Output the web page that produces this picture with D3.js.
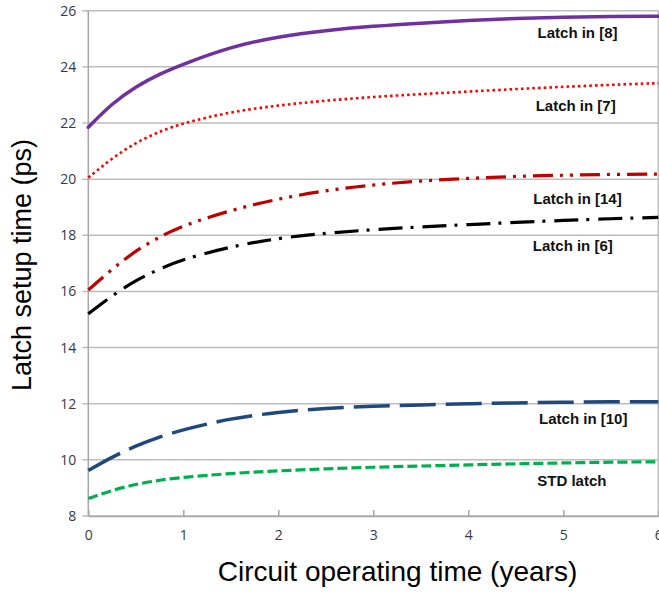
<!DOCTYPE html>
<html>
<head>
<meta charset="utf-8">
<script src="https://cdn.jsdelivr.net/npm/d3@7"></script>
<style>
  body { margin: 0; background: #fff; }
  svg { display: block; }
</style>
</head>
<body>
<svg id="chart" width="659" height="593"></svg>
<script>
// Datos
var years = [0, 0.25, 0.5, 0.75, 1, 1.5, 2, 2.5, 3, 3.5, 4, 4.5, 5, 5.5, 6];
var latch8  = [21.85, 22.7, 23.3, 23.75, 24.1, 24.72, 25.08, 25.3, 25.45, 25.56, 25.65, 25.73, 25.77, 25.8, 25.8];
var latch7  = [20.05, 20.75, 21.3, 21.7, 22.0, 22.4, 22.63, 22.8, 22.93, 23.03, 23.12, 23.21, 23.29, 23.36, 23.42];
var latch14 = [16.05, 16.8, 17.45, 17.95, 18.35, 18.9, 19.3, 19.6, 19.8, 19.94, 20.03, 20.1, 20.14, 20.17, 20.18];
var latch6  = [15.2, 15.85, 16.4, 16.8, 17.15, 17.6, 17.9, 18.08, 18.2, 18.3, 18.38, 18.46, 18.53, 18.59, 18.64];
var latch10 = [9.62, 10.1, 10.5, 10.82, 11.08, 11.48, 11.7, 11.84, 11.91, 11.96, 12.0, 12.03, 12.05, 12.07, 12.07];
var stdLatch = [8.62, 8.92, 9.13, 9.28, 9.38, 9.52, 9.61, 9.68, 9.74, 9.78, 9.82, 9.86, 9.89, 9.92, 9.93];

var seriesNames = ["Latch in [8]", "Latch in [7]", "Latch in [14]", "Latch in [6]", "Latch in [10]", "STD latch"];
var seriesValues = [latch8, latch7, latch14, latch6, latch10, stdLatch];

var xTicks = [0, 1, 2, 3, 4, 5, 6];
var yTicks = [8, 10, 12, 14, 16, 18, 20, 22, 24, 26];

// Donde va cada etiqueta (en unidades de los ejes)
var labelX = [5.15, 5.13, 5.15, 5.10, 5.21, 5.09];
var labelY = [25.03, 22.43, 19.12, 17.44, 11.28, 9.07];

// Estilo de cada curva
var styles = [
  { color: "#7030A0", width: 3.5, dash: null, cap: "round" },
  { color: "#FF0000", width: 2.6, dash: "2.6 3.1", cap: "butt" },
  { color: "#C00000", width: 3.2, dash: "20 7 3 7 3 7", cap: "butt" },
  { color: "#000000", width: 3.2, dash: "24 8 3 9", cap: "butt" },
  { color: "#1F497D", width: 3.5, dash: "36 10", cap: "butt" },
  { color: "#00B050", width: 3.2, dash: "10 4", cap: "butt" }
];

var svg = d3.select("#chart");
var margin = { top: 10.7, right: 0.7, bottom: 77, left: 88.3 };
var width = 659 - margin.left - margin.right;
var height = 593 - margin.top - margin.bottom;

var g = svg.append("g").attr("transform", "translate(" + margin.left + "," + margin.top + ")");

var x = d3.scaleLinear().domain([0, 6]).range([0, width]);
var y = d3.scaleLinear().domain([8, 26]).range([height, 0]);

// Lineas de la cuadricula
g.append("g")
  .selectAll("line")
  .data(yTicks)
  .join("line")
  .attr("x1", -6)
  .attr("x2", width)
  .attr("y1", function (d) { return y(d); })
  .attr("y2", function (d) { return y(d); })
  .attr("stroke", "#BDBDBD")
  .attr("stroke-width", 1.5);

// Borde izquierdo y derecho
g.append("line").attr("x1", 0).attr("x2", 0).attr("y1", 0).attr("y2", height)
  .attr("stroke", "#A6A6A6").attr("stroke-width", 1.5);
g.append("line").attr("x1", width).attr("x2", width).attr("y1", 0).attr("y2", height)
  .attr("stroke", "#BDBDBD").attr("stroke-width", 1.5);

// Eje X
var xAxis = g.append("g")
  .attr("transform", "translate(0," + height + ")")
  .call(d3.axisBottom(x).tickValues(xTicks).tickFormat(d3.format("d"))
    .tickSizeInner(-6).tickSizeOuter(0).tickPadding(14));
xAxis.select(".domain").attr("stroke", "#A6A6A6").attr("stroke-width", 1.5);
xAxis.selectAll(".tick line").attr("stroke", "#A6A6A6").attr("stroke-width", 1.5);
xAxis.selectAll("text")
  .attr("font-family", "'Open Sans', 'Noto Sans', sans-serif")
  .attr("font-size", 14)
  .attr("fill", "#38384A");

// Eje Y (solo las etiquetas)
var yAxis = g.append("g")
  .call(d3.axisLeft(y).tickValues(yTicks).tickSize(0).tickPadding(12));
yAxis.select(".domain").remove();
yAxis.selectAll("text")
  .attr("font-family", "'Open Sans', 'Noto Sans', sans-serif")
  .attr("font-size", 14)
  .attr("fill", "#38384A");

// Curvas
var line = d3.line()
  .x(function (d) { return x(d[0]); })
  .y(function (d) { return y(d[1]); })
  .curve(d3.curveBasis);

seriesValues.forEach(function (vals, i) {
  var pts = years.map(function (yr, j) { return [yr, vals[j]]; });
  var s = styles[i];
  g.append("path")
    .datum(pts)
    .attr("d", line)
    .attr("fill", "none")
    .attr("stroke", s.color)
    .attr("stroke-width", s.width)
    .attr("stroke-linecap", s.cap)
    .attr("stroke-dasharray", s.dash);
});

// Etiquetas de las curvas
g.append("g")
  .selectAll("text")
  .data(seriesNames)
  .join("text")
  .attr("x", function (d, i) { return x(labelX[i]); })
  .attr("y", function (d, i) { return y(labelY[i]); })
  .attr("text-anchor", "middle")
  .attr("font-family", "Arial, 'Liberation Sans', sans-serif")
  .attr("font-weight", "bold")
  .attr("font-size", 15)
  .attr("fill", "#111")
  .text(function (d) { return d; });

// Titulos de los ejes
svg.append("text")
  .attr("x", (215 + 580) / 2)
  .attr("y", 581)
  .attr("text-anchor", "middle")
  .attr("font-family", "Arial, 'Liberation Sans', sans-serif")
  .attr("font-size", 28)
  .attr("fill", "#000")
  .text("Circuit operating time (years)");

svg.append("text")
  .attr("transform", "translate(31," + 265 + ") rotate(-90)")
  .attr("text-anchor", "middle")
  .attr("font-family", "Arial, 'Liberation Sans', sans-serif")
  .attr("font-size", 27)
  .attr("fill", "#000")
  .text("Latch setup time (ps)");
</script>
</body>
</html>
